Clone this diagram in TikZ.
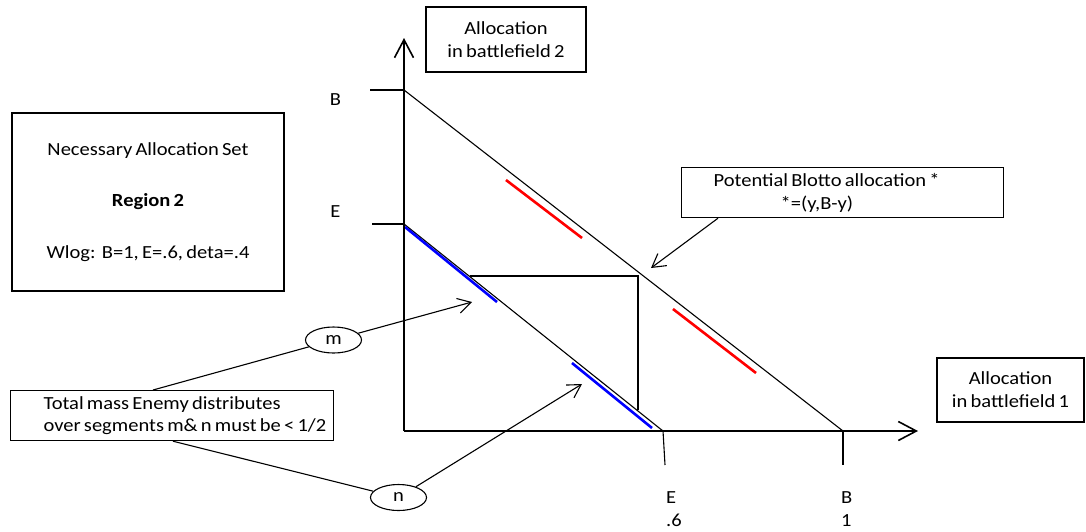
\documentclass[tikz,border=0pt]{standalone}
\usepackage{fontspec}
\setmainfont{Carlito}[FakeStretch=1.11]
\usetikzlibrary{arrows.meta,shapes.geometric}
\newcommand\diagfont{\fontsize{18.5pt}{22.8pt}\selectfont}
\newcommand\tightsp{\spaceskip=3.2pt plus 1pt minus 1pt\xspaceskip=3.2pt\relax}
\tikzset{
  dfont/.style={font=\diagfont,execute at begin node=\tightsp},
  axisline/.style={line width=2.6pt,-{Straight Barb[length=18pt,width=19pt,line width=1.6pt]}},
  thin/.style={line width=1.1pt},
  tick/.style={line width=1.1pt},
  boxed/.style={draw,line width=1.2pt,dfont,inner sep=0pt},
  pointer/.style={line width=1.1pt,-{Straight Barb[length=13pt,width=15pt,line width=1.1pt]}},
  leader/.style={line width=1.1pt},
  bluemark/.style={blue,line width=2.6pt},
  redmark/.style={red,line width=2.6pt},
  oval/.style={ellipse,draw,line width=1.1pt,dfont,inner sep=0pt,minimum width=56pt,minimum height=26pt},
  lbl/.style={dfont,inner sep=0pt}
}
\begin{document}
\begin{tikzpicture}[x=1pt,y=-1pt]
\useasboundingbox[fill=white] (0,0) rectangle (1086,531);
% axes
\coordinate (O) at (404,431);
\coordinate (ytop) at (404,38);
\coordinate (xend) at (918,431);
% ticks and key points
\coordinate (Bby) at (404,90);
\coordinate (Ey) at (404,224);
\coordinate (Bx) at (843,431);
\coordinate (Ex) at (663,431);
\draw[tick] (370,90) coordinate (Bt) -- (Bby);
\draw[tick] (372,224) coordinate (Et) -- (Ey);
\draw[tick] (Ex) -- (665,465) coordinate (Ext);
\draw[tick] (Bx) -- (843,465) coordinate (Bxt);
% diagonals
\draw[thin] (Bby) -- (Bx);
\draw[thin] (Ey) -- (Ex);
% rectangle
\coordinate (R1) at (470,276);
\coordinate (R2) at (638,276);
\coordinate (R3) at (638,410);
\draw[line width=2.6pt] (R1) -- (R2) -- (R3);
% coloured segments
\draw[bluemark] (405,227) coordinate (b1s) -- (497,302) coordinate (b1e);
\draw[bluemark] (572,363) coordinate (b2s) -- (652,428) coordinate (b2e);
\draw[redmark] (506,180) coordinate (r1s) -- (582,238) coordinate (r1e);
\draw[redmark] (673,309) coordinate (r2s) -- (756,373) coordinate (r2e);
% axes drawn on top
\draw[axisline] (O) -- (ytop);
\draw[axisline] (O) -- (xend);
% axis labels
\node[lbl] (lB) at (335.5,100) {B};
\node[lbl] (lE) at (335.5,212) {E};
\node[lbl,align=left,anchor=west] (lEx) at (666,509) {E\\.6};
\node[lbl,align=left,anchor=west] (lBx) at (841,509) {B\\1};
% boxes
\node[boxed,align=center,minimum width=160pt,minimum height=65pt] (ybox) at (506,39.5) {Allocation\\in battlefield 2};
\node[boxed,align=center,minimum width=147pt,minimum height=64pt] (xbox) at (1010.5,390) {Allocation\\in battlefield 1};
\node[boxed,align=center,minimum width=272pt,minimum height=178pt] (nas) at (148,202)
  {Necessary Allocation Set\\[29pt]\textbf{Region 2}\\[29pt]Wlog:\ \ B=1, E=.6, deta=.4};
\node[boxed,align=left,anchor=north west,text width=322pt,minimum height=50pt] (pot) at (681,167)
  {\hspace*{32pt}Potential Blotto allocation *\\\hspace*{99pt}*=(y,B-y)};
\node[boxed,align=left,anchor=north west,text width=323pt,minimum height=50pt] (tot) at (10,390)
  {\hspace*{33pt}Total mass Enemy distributes\\\hspace*{33pt}over segments m\& n must be < 1/2};
% ovals
\node[oval] (m) at (333.5,340) {m};
\node[oval] (n) at (398.5,497.5) {n};
% pointers
\coordinate (potfoot) at ([xshift=37pt]pot.south west);
\coordinate (pottip) at (651,268);
\draw[pointer] (potfoot) -- (pottip);
\coordinate (totm) at ([xshift=143pt]tot.north west);
\coordinate (totn) at ([xshift=163pt]tot.south west);
\coordinate (mtip) at (472,302);
\coordinate (ntip) at (582,384);
\draw[leader] (totm) -- (m);
\draw[pointer] (m) -- (mtip);
\draw[leader] (totn) -- (n);
\draw[pointer] (n) -- (ntip);
\end{tikzpicture}
\end{document}
